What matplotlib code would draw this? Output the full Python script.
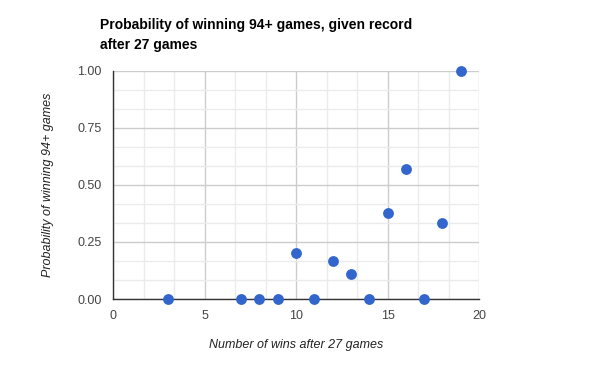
import numpy as np
import matplotlib.pyplot as plt
from matplotlib.ticker import MultipleLocator

plt.rcParams['font.family'] = ['Liberation Sans', 'DejaVu Sans']

wins = [3, 7, 8, 9, 10, 11, 12, 13, 14, 15, 16, 17, 18, 19]
prob = [0, 0, 0, 0, 0.2, 0, 1/6, 1/9, 0, 0.375, 4/7, 0, 1/3, 1.0]

fig = plt.figure(figsize=(5.92, 3.71), dpi=100)
W, H = 592, 371
ax = fig.add_axes([113 / W, 1 - 299 / H, (479 - 113) / W, (299 - 71) / H])

ax.set_xlim(0, 20)
ax.set_ylim(0, 1)
ax.xaxis.set_major_locator(MultipleLocator(5))
ax.xaxis.set_minor_locator(MultipleLocator(5 / 3))
ax.yaxis.set_major_locator(MultipleLocator(0.25))
ax.yaxis.set_minor_locator(MultipleLocator(0.25 / 3))
ax.yaxis.set_major_formatter(plt.FuncFormatter(lambda v, p: f"{v:.2f}"))

ax.grid(which='major', color='#cccccc', linewidth=1)
ax.grid(which='minor', color='#ebebeb', linewidth=1)
ax.set_axisbelow(True)

for s in ['top', 'right']:
    ax.spines[s].set_visible(False)
for s in ['left', 'bottom']:
    ax.spines[s].set_color('#333333')
    ax.spines[s].set_linewidth(1)
    ax.spines[s].set_zorder(3)

ax.tick_params(which='both', length=0, labelsize=9, colors='#444444', pad=8)

ax.plot(wins, prob, 'o', color='#3366cc', markersize=7.8, markeredgewidth=0,
        clip_on=False, zorder=4)

ax.set_xlabel('Number of wins after 27 games', fontsize=9, style='italic',
              color='#222222', labelpad=12)
ax.set_ylabel('Probability of winning 94+ games', fontsize=9, style='italic',
              color='#222222', labelpad=17)

fig.text(100 / W, 1 - 18 / H, 'Probability of winning 94+ games, given record\nafter 27 games',
         fontsize=10, fontweight='bold', color='#000000', va='top', ha='left',
         linespacing=1.55)

fig.savefig('out.png', dpi=100)
